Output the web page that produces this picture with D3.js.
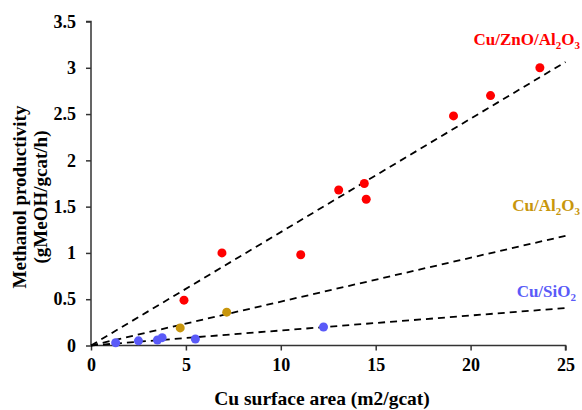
<!DOCTYPE html>
<html><head><meta charset="utf-8">
<script src="https://cdn.jsdelivr.net/npm/d3@7"></script>
<style>body{margin:0;background:#fff}svg{display:block}</style>
</head><body>
<svg id="c" width="582" height="410"></svg>
<script>
const xTicks = [0, 5, 10, 15, 20, 25];
const yTicks = [0, 0.5, 1, 1.5, 2, 2.5, 3, 3.5];
const seriesNames = ["Cu/ZnO/Al2O3", "Cu/Al2O3", "Cu/SiO2"];
const znoX = [4.9, 6.9, 11.05, 13.05, 14.4, 14.5, 19.1, 21.05, 23.65];
const znoY = [0.49, 1.0, 0.98, 1.68, 1.75, 1.58, 2.48, 2.70, 3.0];
const al2o3X = [4.7, 7.15];
const al2o3Y = [0.19, 0.36];
const sio2X = [1.3, 2.5, 3.5, 3.75, 5.5, 12.25];
const sio2Y = [0.03, 0.05, 0.06, 0.085, 0.07, 0.2];
const slopes = [0.1225, 0.0474, 0.0162];
const colors = ["#ff0000", "#c8960c", "#5a5af8"];

const svg = d3.select("#c");
const x = d3.scaleLinear().domain([0, 25]).range([91, 565.5]);
const y = d3.scaleLinear().domain([0, 3.5]).range([345.5, 21.5]);
const font = "'Liberation Serif','Times New Roman',serif";

const xa = svg.append("g").attr("transform", "translate(0,345.5)")
  .call(d3.axisBottom(x).tickValues(xTicks).tickSize(5).tickPadding(8).tickFormat(d3.format("")));
const ya = svg.append("g").attr("transform", "translate(91,0)")
  .call(d3.axisLeft(y).tickValues(yTicks).tickSize(5).tickPadding(10).tickFormat(d3.format("")));
[xa, ya].forEach(a => {
  a.selectAll("path,line").attr("stroke", "#333").attr("stroke-width", 1.5);
  a.selectAll("text").attr("font-family", font).attr("font-weight", "bold").attr("font-size", 18).attr("fill", "#000");
});
xa.select(".domain").attr("d", "M91,0H565.5V5");
ya.select(".domain").attr("d", "M-5,21.5H0V345.5");

// trend lines
slopes.forEach(s => {
  svg.append("line").attr("x1", x(0)).attr("y1", y(0)).attr("x2", x(25)).attr("y2", y(s * 25))
    .attr("stroke", "#000").attr("stroke-width", 1.8).attr("stroke-dasharray", "7,5");
});

const sets = [[znoX, znoY], [al2o3X, al2o3Y], [sio2X, sio2Y]];
sets.forEach(([xs, ys], i) => {
  svg.append("g").selectAll("circle").data(xs).join("circle")
    .attr("cx", d => x(d)).attr("cy", (d, j) => y(ys[j])).attr("r", 4.5)
    .attr("fill", colors[i]);
});

// series labels with subscripts
const labelPos = [[580, 45], [580, 211], [576, 297]];
const parts = [[["Cu/ZnO/Al", 0], ["2", 1], ["O", 0], ["3", 1]], [["Cu/Al", 0], ["2", 1], ["O", 0], ["3", 1]], [["Cu/SiO", 0], ["2", 1]]];
parts.forEach((p, i) => {
  const t = svg.append("text").attr("x", labelPos[i][0]).attr("y", labelPos[i][1])
    .attr("text-anchor", "end").attr("font-family", font).attr("font-weight", "bold")
    .attr("font-size", 17).attr("fill", colors[i]);
  let sub = false;
  p.forEach(([s, isSub]) => {
    const ts = t.append("tspan").text(s);
    if (isSub && !sub) { ts.attr("dy", 4).attr("font-size", 11); sub = true; }
    else if (isSub) { ts.attr("font-size", 11); }
    else if (sub) { ts.attr("dy", -4); sub = false; }
  });
});

// axis titles
svg.append("text").attr("x", 322).attr("y", 405).attr("text-anchor", "middle")
  .attr("font-family", font).attr("font-weight", "bold").attr("font-size", 19.5).text("Cu surface area (m2/gcat)");
const yt = svg.append("text").attr("transform", "translate(26,197) rotate(-90)").attr("text-anchor", "middle")
  .attr("font-family", font).attr("font-weight", "bold").attr("font-size", 19);
yt.append("tspan").attr("x", 0).attr("y", 0).text("Methanol productivity");
yt.append("tspan").attr("x", 0).attr("y", 21).text("(gMeOH/gcat/h)");
</script>
</body></html>
